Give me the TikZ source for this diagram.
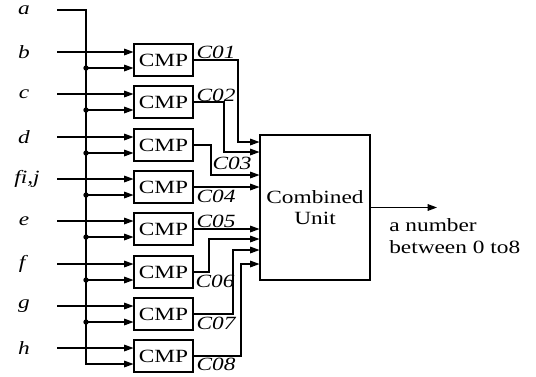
\documentclass[tikz,border=0pt]{standalone}
\usepackage{fontspec}
\setmainfont{Liberation Serif}[FakeStretch=1.25]
\usepackage{tikz}
\usetikzlibrary{arrows.meta, calc}
\tikzset{
  CMP/.style={
    rectangle, draw, line width=0.8pt,
    minimum width=44.25pt, minimum height=24pt, inner sep=0pt,
    font=\fontsize{14}{16}\selectfont
  },
  UNIT/.style={
    rectangle, draw, line width=0.8pt, align=center,
    minimum width=82.5pt, minimum height=108.75pt, inner sep=0pt,
    font=\fontsize{14}{16}\selectfont
  },
  LBL/.style={inner sep=0pt, font=\fontsize{14}{16}\selectfont\itshape},
  TAG/.style={inner sep=0pt, font=\fontsize{14}{16}\selectfont\itshape},
  ARR/.style={
    -{Triangle[length=7pt,width=5pt]},
    line width=0.8pt
  },
}

\begin{document}
\begin{tikzpicture}[x=0.75pt,y=0.75pt]
\useasboundingbox (0,0) rectangle (536,-376);

%================ INPUT LABELS =================
\node[LBL] (la) at (24,-10)  {a};
\node[LBL] (lb) at (24,-52)  {b};
\node[LBL] (lc) at (24,-94)  {c};
\node[LBL] (ld) at (24,-137) {d};
\node[LBL] (lf) at (27,-179) {fi,j};
\node[LBL] (le) at (24,-221) {e};
\node[LBL] (lg) at (22,-264) {f};
\node[LBL] (lh) at (24,-306) {g};
\node[LBL] (li) at (24,-348) {h};

\coordinate (ina) at (57,-10);
\coordinate (inb) at (57,-52);
\coordinate (inc) at (57,-94);
\coordinate (ind) at (57,-137);
\coordinate (inf) at (57,-179);
\coordinate (ine) at (57,-221);
\coordinate (ing) at (57,-264);
\coordinate (inh) at (57,-306);
\coordinate (ini) at (57,-348);
\coordinate (bus) at (86,0);

%================ COMPARATORS =================
\node[CMP] (cmp1) at (163.5,-60)  {CMP};
\node[CMP] (cmp2) at (163.5,-102) {CMP};
\node[CMP] (cmp3) at (163.5,-145) {CMP};
\node[CMP] (cmp4) at (163.5,-187) {CMP};
\node[CMP] (cmp5) at (163.5,-229) {CMP};
\node[CMP] (cmp6) at (163.5,-272) {CMP};
\node[CMP] (cmp7) at (163.5,-314) {CMP};
\node[CMP] (cmp8) at (163.5,-356) {CMP};

\coordinate (lo1) at ([yshift=-6pt]cmp1.west);
\coordinate (lo2) at ([yshift=-6pt]cmp2.west);
\coordinate (lo3) at ([yshift=-6pt]cmp3.west);
\coordinate (lo4) at ([yshift=-6pt]cmp4.west);
\coordinate (lo5) at ([yshift=-6pt]cmp5.west);
\coordinate (lo6) at ([yshift=-6pt]cmp6.west);
\coordinate (lo7) at ([yshift=-6pt]cmp7.west);
\coordinate (lo8) at ([yshift=-6pt]cmp8.west);

%================ COMBINED UNIT =================
\node[UNIT] (unit) at (315,-207.5) {Combined\\Unit};

%================ INPUT WIRES =================
\draw[ARR] (ina) -| (lo8 -| bus) -- (lo8);

\draw[ARR] (inb) -- (inb -| cmp1.west);
\draw[ARR] (inc) -- (inc -| cmp2.west);
\draw[ARR] (ind) -- (ind -| cmp3.west);
\draw[ARR] (inf) -- (inf -| cmp4.west);
\draw[ARR] (ine) -- (ine -| cmp5.west);
\draw[ARR] (ing) -- (ing -| cmp6.west);
\draw[ARR] (inh) -- (inh -| cmp7.west);
\draw[ARR] (ini) -- (ini -| cmp8.west);

\draw[ARR] (lo1 -| bus) -- (lo1);
\draw[ARR] (lo2 -| bus) -- (lo2);
\draw[ARR] (lo3 -| bus) -- (lo3);
\draw[ARR] (lo4 -| bus) -- (lo4);
\draw[ARR] (lo5 -| bus) -- (lo5);
\draw[ARR] (lo6 -| bus) -- (lo6);
\draw[ARR] (lo7 -| bus) -- (lo7);

\fill (lo1 -| bus) circle[radius=2pt];
\fill (lo2 -| bus) circle[radius=2pt];
\fill (lo3 -| bus) circle[radius=2pt];
\fill (lo4 -| bus) circle[radius=2pt];
\fill (lo5 -| bus) circle[radius=2pt];
\fill (lo6 -| bus) circle[radius=2pt];
\fill (lo7 -| bus) circle[radius=2pt];

%================ COMPARATOR OUTPUTS =================
\draw[ARR] (cmp1.east) -- (cmp1.east -| 238,0) |- (unit.west |- 0,-142);
\draw[ARR] (cmp2.east) -- (cmp2.east -| 224,0) |- (unit.west |- 0,-152);
\draw[ARR] (cmp3.east) -- (cmp3.east -| 211,0) |- (unit.west |- 0,-175);
\draw[ARR] (cmp4.east) -- (unit.west |- cmp4.east);
\draw[ARR] (cmp5.east) -- (unit.west |- cmp5.east);
\draw[ARR] (cmp6.east) -- (cmp6.east -| 209,0) |- (unit.west |- 0,-239);
\draw[ARR] (cmp7.east) -- (cmp7.east -| 233,0) |- (unit.west |- 0,-250);
\draw[ARR] (cmp8.east) -- (cmp8.east -| 241,0) |- (unit.west |- 0,-264);

\node[TAG] (c01) at (216,-52)  {C01};
\node[TAG] (c02) at (216,-95)  {C02};
\node[TAG] (c03) at (232,-163) {C03};
\node[TAG] (c04) at (216,-196) {C04};
\node[TAG] (c05) at (216,-221) {C05};
\node[TAG] (c06) at (215,-281) {C06};
\node[TAG] (c07) at (216,-323) {C07};
\node[TAG] (c08) at (216,-364) {C08};

%================ OUTPUT =================
\coordinate (out) at (437,-207.5);
\draw[ARR] (unit.east) -- (out);

\node[align=left, anchor=west, inner sep=0pt,
font=\fontsize{14}{16}\selectfont]
(outlab) at (389,-236) {a number\\between 0 to8};

\end{tikzpicture}
\end{document}
